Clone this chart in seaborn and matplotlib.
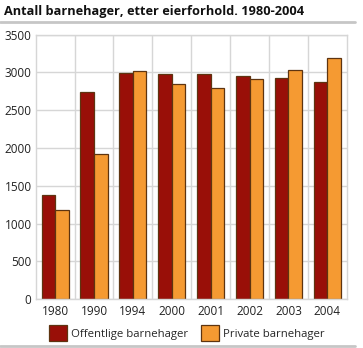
import matplotlib
matplotlib.use("Agg")
import matplotlib.pyplot as plt
from matplotlib.lines import Line2D
from matplotlib.patches import Patch
import seaborn as sns
import pandas as pd

years = ["1980", "1990", "1994", "2000", "2001", "2002", "2003", "2004"]
offentlige = [1375, 2745, 2992, 2979, 2975, 2952, 2922, 2869]
private = [1178, 1914, 3018, 2850, 2797, 2917, 3028, 3191]
series_names = ["Offentlige barnehager", "Private barnehager"]
y_ticks = [0, 500, 1000, 1500, 2000, 2500, 3000, 3500]

title = "Antall barnehager, etter eierforhold. 1980-2004"
colors = ["#990f08", "#f59a32"]
edge = "#5e3410"
grid_color = "#d6d6d6"

df = pd.DataFrame({
    "year": years * 2,
    "value": offentlige + private,
    "series": [series_names[0]] * len(years) + [series_names[1]] * len(years),
})

sns.set_theme(style="white")
plt.rcParams["font.family"] = ["Open Sans", "DejaVu Sans"]

W, H = 363, 348
fig = plt.figure(figsize=(W / 100, H / 100), dpi=100)
ax = fig.add_axes([35.7 / W, 1 - 299.3 / H, 311.0 / W, 264.8 / H])

sns.barplot(data=df, x="year", y="value", hue="series", order=years,
            hue_order=series_names, palette=colors, width=0.7,
            edgecolor=edge, linewidth=0.9, saturation=1, ax=ax, legend=False)

ax.set_xlim(-0.5, len(years) - 0.5)
ax.set_ylim(0, 3500)
ax.set_yticks(y_ticks)
ax.set_yticklabels([str(t) for t in y_ticks])
ax.set_xlabel("")
ax.set_ylabel("")
ax.set_xticks([i + 0.5 for i in range(len(years) - 1)], minor=True)
ax.tick_params(axis="both", which="both", length=0, labelsize=8.5,
               colors="#222222")
ax.tick_params(axis="y", pad=3)
ax.tick_params(axis="x", pad=4)
ax.grid(axis="y", which="major", color=grid_color, linewidth=1)
ax.grid(axis="x", which="minor", color=grid_color, linewidth=1)
ax.set_axisbelow(True)
for s in ax.spines.values():
    s.set_color(grid_color)
    s.set_linewidth(1)

# title and separator rules
fig.text(4 / W, 1 - 11 / H, title, fontsize=9.2, fontweight="bold",
         ha="left", va="center", color="#111111")
fig.add_artist(Line2D([0, 355 / W], [1 - 22 / H, 1 - 22 / H],
                      color="#c6c6c6", linewidth=2))
fig.add_artist(Line2D([0, 355 / W], [1 - 346 / H, 1 - 346 / H],
                      color="#c6c6c6", linewidth=2))

handles = [Patch(facecolor=c, edgecolor=edge, linewidth=0.9) for c in colors]
fig.legend(handles, series_names, loc="center", ncol=2,
           bbox_to_anchor=(187 / W, 1 - 333 / H), frameon=False,
           fontsize=8.2, handlelength=1.6, handleheight=1.7,
           handletextpad=0.35, columnspacing=1.1, borderaxespad=0,
           borderpad=0)

fig.savefig("out.png", dpi=100)
